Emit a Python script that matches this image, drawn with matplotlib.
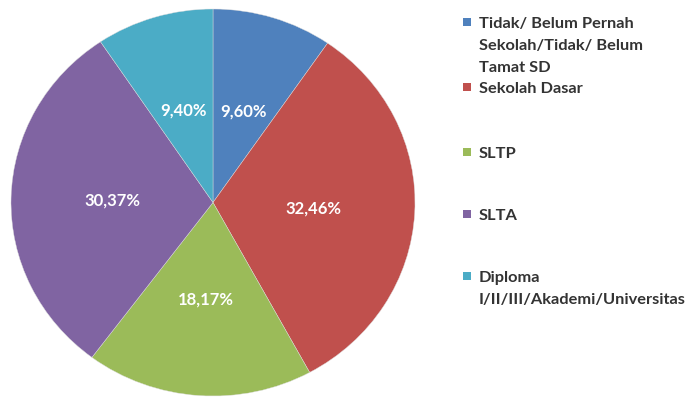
import matplotlib
matplotlib.use("Agg")
import matplotlib.pyplot as plt
from matplotlib.patches import Rectangle

labels = ["Tidak/ Belum Pernah\nSekolah/Tidak/ Belum\nTamat SD",
          "Sekolah Dasar",
          "SLTP",
          "SLTA",
          "Diploma\nI/II/III/Akademi/Universitas"]
values = [9.60, 32.46, 18.17, 30.37, 9.40]
colors = ["#4F81BD", "#C0504D", "#9BBB59", "#8064A2", "#4BACC6"]
legend_y = [23, 88, 153, 215, 277]   # centre of each legend entry's first line, px from top

W, H = 699, 402
fig = plt.figure(figsize=(W / 100, H / 100), dpi=100)
plt.rcParams['font.family'] = ['Lato', 'DejaVu Sans']

ax = fig.add_axes([11 / W, 5 / H, 404 / W, 387 / H])
wedges, texts, autotexts = ax.pie(
    values, colors=colors, startangle=90, counterclock=False,
    autopct=lambda p: ("%.2f%%" % p).replace(".", ","), pctdistance=0.5,
    wedgeprops=dict(linewidth=0.3, edgecolor="#dddddd"),
    textprops=dict(color="white", fontsize=12, fontweight="bold"))
ax.set_aspect("auto")
ax.set_xlim(-1, 1)
ax.set_ylim(-1, 1)
ax.axis("off")

# legend drawn by hand so the entries keep the original spacing
for lab, col, y in zip(labels, colors, legend_y):
    fig.patches.append(Rectangle((463 / W, 1 - (y + 4) / H), 8 / W, 8 / H,
                                 transform=fig.transFigure, facecolor=col,
                                 edgecolor="none"))
    fig.text(479 / W, 1 - (y - 6) / H, lab, fontsize=11.8, fontweight="bold",
             color="#333333", va="top", ha="left", linespacing=1.72)

fig.savefig("out.png", dpi=100)
